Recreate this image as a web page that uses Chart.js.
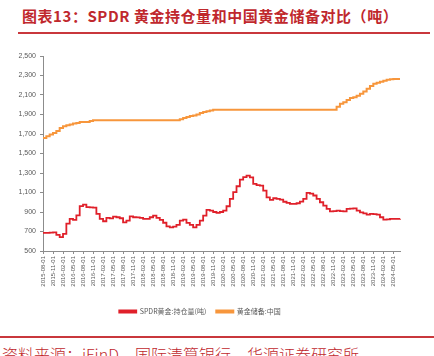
<!DOCTYPE html>
<html>
<head>
<meta charset="utf-8">
<script src="https://cdn.jsdelivr.net/npm/chart.js@4/dist/chart.umd.min.js"></script>
<style>
  html, body { margin: 0; padding: 0; background: #fff; width: 434px; height: 356px; overflow: hidden; }
  #title { position: absolute; left: 22px; top: 6px; font-family: "Noto Sans CJK SC", sans-serif; font-weight: bold; font-size: 15px; letter-spacing: 0.55px; color: #c0282d; white-space: nowrap; line-height: 20px; }
  #rule1 { position: absolute; left: 18px; top: 32px; width: 412px; height: 2px; background: #c9373c; }
  #rule2 { position: absolute; left: 0px; top: 336px; width: 434px; height: 2px; background: #c9373c; }
  #source { position: absolute; left: 2px; top: 344px; font-family: "Noto Sans CJK SC", sans-serif; font-weight: 300; font-size: 16px; color: #c0282d; white-space: nowrap; line-height: 20px; }
  #wrap { position: absolute; left: 0; top: 40px; width: 434px; height: 285px; }
</style>
</head>
<body>
<div id="title">图表13：SPDR 黄金持仓量和中国黄金储备对比（吨）</div>
<div id="rule1"></div>
<div id="wrap"><canvas id="c" width="434" height="285"></canvas></div>
<div id="rule2"></div>
<div id="source">资料来源：iFinD，国际清算银行，华源证券研究所</div>
<script>
// Monthly categories 2015-08 .. 2024-07
const months = [];
for (let y = 2015; y <= 2024; y++) {
  for (let m = 1; m <= 12; m++) {
    if (y === 2015 && m < 8) continue;
    if (y === 2024 && m > 7) continue;
    months.push(y + '-' + String(m).padStart(2, '0') + '-01');
  }
}

const spdrLabel = 'SPDR黄金:持仓量(吨)';
const chinaLabel = '黄金储备:中国';

const spdrHoldings = [
  685, 685, 688, 692, 665, 642, 675, 780, 829, 819, 865, 960,
  975, 950, 948, 945, 880, 829, 805, 840, 835, 853, 846, 836,
  794, 811, 856, 846, 845, 840, 830, 829, 846, 863, 840, 820,
  790, 753, 743, 750, 767, 811, 822, 788, 767, 743, 767, 811,
  863, 921, 914, 900, 891, 900, 914, 959, 1035, 1103, 1164, 1233,
  1257, 1274, 1255, 1189, 1175, 1171, 1120, 1051, 1024, 1041, 1035, 1027,
  1005, 994, 983, 983, 990, 1007, 1035, 1096, 1088, 1069, 1035, 1000,
  966, 932, 907, 910, 914, 910, 907, 932, 935, 938, 914, 897,
  885, 873, 880, 878, 873, 846, 822, 825, 829, 829, 830, 832
];

const chinaReserves = [
  1658, 1677, 1694, 1711, 1731,
  1762, 1779, 1789, 1797, 1808, 1814, 1823, 1823, 1823, 1834, 1842, 1842,
  1842, 1842, 1842, 1842, 1842, 1842, 1842, 1842, 1842, 1842, 1842, 1842,
  1842, 1842, 1842, 1842, 1842, 1842, 1842, 1842, 1842, 1842, 1842, 1842,
  1852, 1864, 1874, 1885, 1890, 1900, 1916, 1926, 1934, 1942, 1948, 1948,
  1948, 1948, 1948, 1948, 1948, 1948, 1948, 1948, 1948, 1948, 1948, 1948,
  1948, 1948, 1948, 1948, 1948, 1948, 1948, 1948, 1948, 1948, 1948, 1948,
  1948, 1948, 1948, 1948, 1948, 1948, 1948, 1948, 1948, 1948, 1948, 1980,
  2010, 2025, 2050, 2068, 2076, 2092, 2113, 2137, 2165, 2192, 2215, 2226,
  2235, 2245, 2257, 2262, 2264, 2264, 2264
];

const yTicks = [500, 700, 900, 1100, 1300, 1500, 1700, 1900, 2100, 2300, 2500];

new Chart(document.getElementById('c'), {
  type: 'line',
  data: {
    labels: months,
    datasets: [
      { label: spdrLabel, data: spdrHoldings, borderColor: '#e0202a', backgroundColor: '#e0202a', borderWidth: 1.8, pointRadius: 0, stepped: true, fill: false },
      { label: chinaLabel, data: chinaReserves, borderColor: '#f7963c', backgroundColor: '#f7963c', borderWidth: 2, pointRadius: 0, stepped: true, fill: false }
    ]
  },
  options: {
    responsive: false,
    animation: false,
    layout: { padding: { top: 16, right: 34, left: 0, bottom: 0 } },
    plugins: {
      tooltip: { enabled: false },
      legend: {
        position: 'bottom',
        labels: {
          boxWidth: 17, boxHeight: 2, padding: 10,
          color: '#595959',
          font: { family: '"Noto Sans CJK SC", sans-serif', size: 7 }
        }
      }
    },
    scales: {
      x: {
        type: 'category',
        offset: false,
        afterFit: (s) => { s.height = 47; },
        grid: {
          drawOnChartArea: false, drawTicks: true, tickLength: 3,
          tickColor: (ctx) => (ctx.index % 3 === 0 ? '#8c8c8c' : 'rgba(0,0,0,0)')
        },
        border: { color: '#8c8c8c', width: 1 },
        ticks: {
          autoSkip: false, minRotation: 90, maxRotation: 90, padding: 2,
          color: '#595959',
          font: { family: '"Liberation Sans", Arial, sans-serif', size: 6 },
          callback: function (v, i) { return i % 3 === 0 ? this.getLabelForValue(v) : ''; }
        }
      },
      y: {
        min: yTicks[0], max: yTicks[yTicks.length - 1],
        afterFit: (s) => { s.width = 43; },
        afterBuildTicks: (s) => { s.ticks = yTicks.map(v => ({ value: v })); },
        grid: { drawOnChartArea: false, drawTicks: true, tickLength: 3, tickColor: '#8c8c8c' },
        border: { color: '#8c8c8c', width: 1 },
        ticks: {
          padding: 4, color: '#595959',
          font: { family: '"Liberation Sans", Arial, sans-serif', size: 7 },
          callback: (v) => Number(v).toLocaleString('en-US')
        }
      }
    }
  }
});
</script>
</body>
</html>
